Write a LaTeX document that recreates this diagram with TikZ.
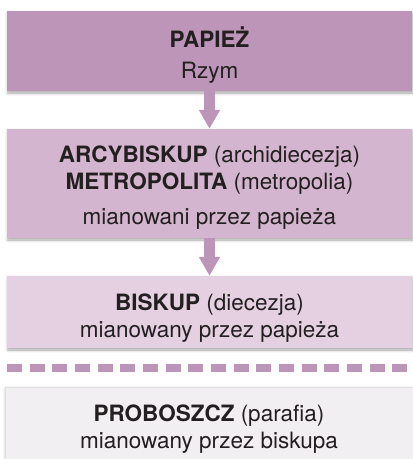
\documentclass[tikz,border=0pt]{standalone}
\usepackage{fontspec}
\setmainfont{TeX Gyre Heros}
\usetikzlibrary{arrows.meta,shadows.blur}

\definecolor{popecol}{HTML}{BC95B8}
\definecolor{archcol}{HTML}{D4B5CF}
\definecolor{bishcol}{HTML}{E5D0E2}
\definecolor{priestcol}{HTML}{F2EFF3}
\definecolor{inkcol}{HTML}{231F20}

\newcommand\linetop[1]{\rule{0pt}{#1}}
\newcommand\linebot[1]{\rule[-#1]{0pt}{#1}}

\tikzset{
    level-box/.style = {rectangle, minimum width=405pt, inner sep=0pt, align=center, text=inkcol, font=\fontsize{22.5}{27}\selectfont, blur shadow={shadow xshift=0.8pt, shadow yshift=-2pt, shadow blur radius=3pt, shadow opacity=35}},
    level-arrow/.style = {draw=popecol, line width=11pt, -{Triangle[width=20pt, length=19pt]}},
    level-cut/.style = {draw=popecol, line width=8pt, dash pattern=on 15pt off 7.67pt},
}

\begin{document}
\begin{tikzpicture}[x=1pt, y=-1pt]
\useasboundingbox (0,0) rectangle (413,459);
\clip (0,0) rectangle (413,459);
\node[level-box, fill=popecol, minimum height=80pt] (papiez) at (209.5,51) {\linetop{29pt}\textbf{PAPIEŻ}\\[4pt] Rzym\linebot{6pt}};
\node[level-box, fill=archcol, minimum height=109pt] (arcybiskup) at (209.5,183.5) {\linetop{25pt}\textbf{ARCYBISKUP} (archidiecezja)\\ \textbf{METROPOLITA} (metropolia)\\[8pt] mianowani przez papieża\linebot{6pt}};
\node[level-box, fill=bishcol, minimum height=72pt] (biskup) at (209.5,312) {\linetop{29pt}\textbf{BISKUP} (diecezja)\\ mianowany przez papieża\linebot{6pt}};
\node[level-box, fill=priestcol, draw=gray!25, minimum width=408pt, minimum height=72pt] (proboszcz) at (209,423) {\linetop{29pt}\textbf{PROBOSZCZ} (parafia)\\ mianowany przez biskupa\linebot{6pt}};
% strzalki i linia podzialu
\draw[level-arrow] (papiez) -- (arcybiskup);
\draw[level-arrow] (arcybiskup) -- (biskup);
\draw[level-cut] (7,368) -- (407,368);
\end{tikzpicture}
\end{document}
